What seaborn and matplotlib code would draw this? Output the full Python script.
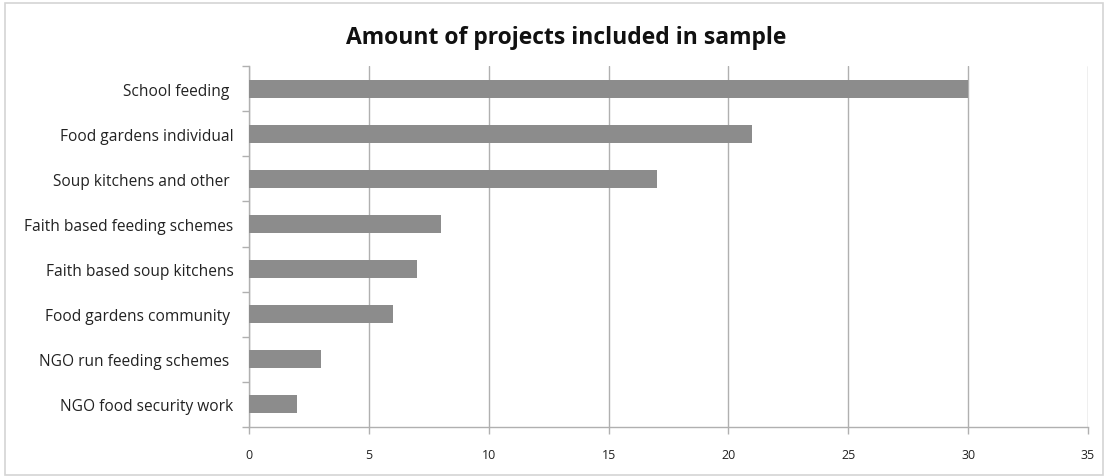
import matplotlib
matplotlib.use("Agg")
import matplotlib.pyplot as plt
import seaborn as sns
import pandas as pd
import numpy as np
from matplotlib.patches import Rectangle
from matplotlib.ticker import FixedLocator

categories = [
    "School feeding ",
    "Food gardens individual",
    "Soup kitchens and other ",
    "Faith based feeding schemes",
    "Faith based soup kitchens",
    "Food gardens community ",
    "NGO run feeding schemes ",
    "NGO food security work",
]
values = [30, 21, 17, 8, 7, 6, 3, 2]
x_ticks = [0, 5, 10, 15, 20, 25, 30, 35]
title = "Amount of projects included in sample"

sns.set_theme(style="white")
plt.rcParams["font.family"] = ["Open Sans", "DejaVu Sans"]

df = pd.DataFrame({"category": categories, "value": values})

fig = plt.figure(figsize=(11.09, 4.77), dpi=100)
ax = fig.add_axes([249 / 1109, 1 - 428 / 477, (1088 - 249) / 1109, (428 - 67) / 477])

sns.barplot(data=df, x="value", y="category", orient="h", color="#8c8c8c",
            saturation=1, width=0.4, ax=ax, zorder=3)
for p in ax.patches:
    p.set_edgecolor("none")

ax.set_xlim(0, 35)
ax.set_ylim(7.5, -0.5)
ax.set_xticks(x_ticks)
ax.set_xticklabels([str(t) for t in x_ticks], fontsize=9, color="#222222")
ax.tick_params(axis="x", direction="out", length=5, width=1, color="#b0b0b0", pad=10, bottom=True)
ax.tick_params(axis="y", which="major", length=0, pad=11, labelsize=11.2, labelcolor="#222222")
ax.yaxis.set_minor_locator(FixedLocator(np.arange(-0.5, 8.0, 1.0)))
ax.tick_params(axis="y", which="minor", direction="out", length=5, width=1, color="#b0b0b0", left=True)
ax.set_xlabel("")
ax.set_ylabel("")

ax.grid(axis="x", color="#b0b0b0", linewidth=1, zorder=0)
ax.grid(axis="y", visible=False)
for side in ["top", "right"]:
    ax.spines[side].set_visible(False)
for side in ["left", "bottom"]:
    ax.spines[side].set_color("#b0b0b0")
    ax.spines[side].set_linewidth(1)

fig.text(566 / 1109, 1 - 38 / 477, title, ha="center", va="center",
         fontsize=16.5, fontweight="bold", color="#111111")

fig.patches.append(Rectangle((5 / 1109, 1 / 477), 1098 / 1109, 472 / 477,
                             transform=fig.transFigure, fill=False,
                             edgecolor="#d4d4d4", linewidth=1.2))

fig.savefig("out.png", dpi=100, facecolor="white")
